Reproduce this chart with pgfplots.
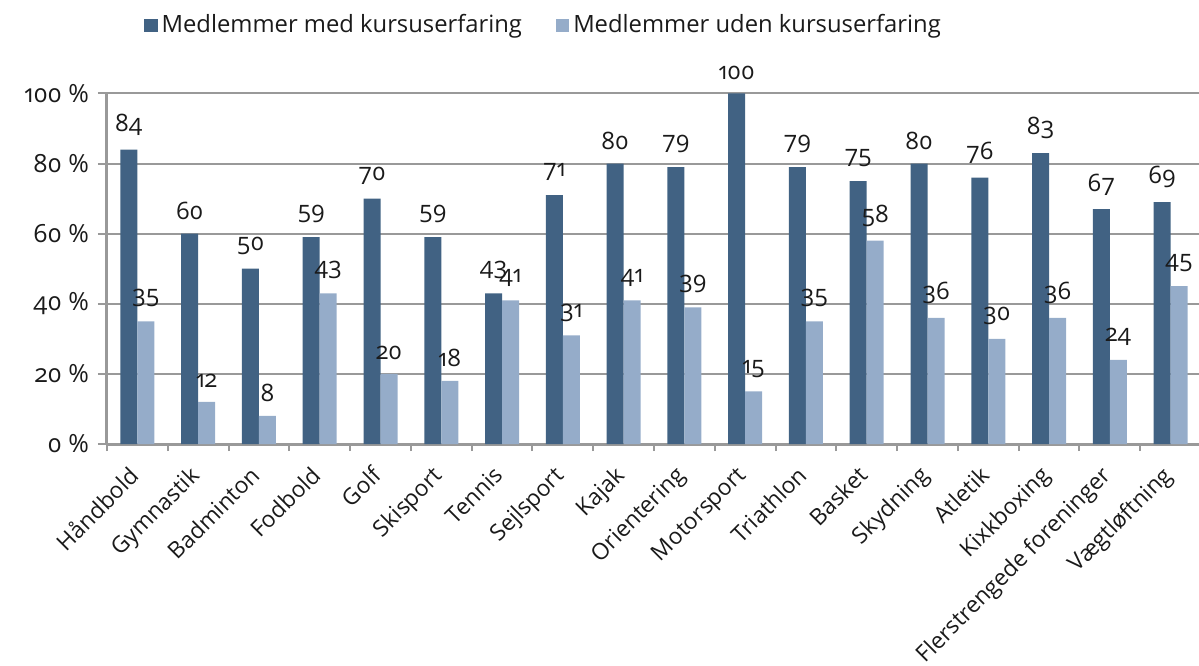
\documentclass[border=0pt]{standalone}
\usepackage{fontspec}
\setmainfont{Open Sans}[Numbers=OldStyle]
\usepackage{pgfplots}
\pgfplotsset{compat=1.18}
\definecolor{Dark}{HTML}{416283}
\definecolor{Light}{HTML}{95ACC9}
\definecolor{Grid}{HTML}{999999}
\definecolor{Txt}{HTML}{1A1A1A}

\begin{document}
\begin{tikzpicture}
% picture frame: 1px = 0.5pt, top-left at (0,0)
\path[use as bounding box] (0pt,0pt) rectangle (599.5pt,-332.5pt);
\begin{axis}[
    at={(53.5pt,-222pt)}, anchor=south west,
    width=547pt, height=175.3pt, scale only axis,
    ybar, bar width=8.5pt, ybar=0pt,
    xmin=-0.5, xmax=17.5, ymin=0, ymax=100,
    clip=false,
    xtick={0,...,17},
    xticklabels={Håndbold,Gymnastik,Badminton,Fodbold,Golf,Skisport,Tennis,Sejlsport,Kajak,Orientering,Motorsport,Triathlon,Basket,Skydning,Atletik,Kixkboxing,Flerstrengede foreninger,Vægtløftning},
    minor xtick={-0.5,0.5,...,17.5},
    major x tick style={draw=none},
    ytick={0,20,...,100},
    yticklabel={\pgfmathprintnumber{\tick}\ \%},
    ymajorgrids,
    grid style={Grid, line width=1pt},
    axis x line*=bottom, axis y line*=left,
    axis line style={Grid, line width=1.5pt},
    tick align=outside,
    major tick length=4.5pt, minor tick length=3.5pt,
    tick style={Grid, line width=1pt},
    /pgf/number format/assume math mode=true,
    yticklabel style={font=\fontsize{12.5}{14}\selectfont, text=Txt, xshift=-1pt},
    xticklabel style={rotate=45, anchor=north east, font=\fontsize{11.4}{14}\selectfont, text=Txt, inner sep=1pt, xshift=-6.5pt, yshift=0.5pt},
    nodes near coords,
    every node near coord/.append style={font=\fontsize{12}{14}\selectfont, text=Txt, yshift=3.5pt},
    legend style={at={(0.40,1.194)}, anchor=center, draw=none, fill=none,
        legend columns=2, font=\fontsize{11.9}{14}\selectfont, text=Txt,
        /tikz/every even column/.append style={column sep=15pt}},
]
\addplot[fill=Dark, draw=none,
    legend image code/.code={\fill[Dark] (0pt,-3.3pt) rectangle (6.6pt,3.3pt);}]
    coordinates {(0,84) (1,60) (2,50) (3,59) (4,70) (5,59) (6,43) (7,71) (8,80)
                 (9,79) (10,100) (11,79) (12,75) (13,80) (14,76) (15,83) (16,67) (17,69)};
\addplot[fill=Light, draw=none,
    legend image code/.code={\fill[Light] (0pt,-3.3pt) rectangle (6.6pt,3.3pt);}]
    coordinates {(0,35) (1,12) (2,8) (3,43) (4,20) (5,18) (6,41) (7,31) (8,41)
                 (9,39) (10,15) (11,35) (12,58) (13,36) (14,30) (15,36) (16,24) (17,45)};
\legend{Medlemmer med kursuserfaring, Medlemmer uden kursuserfaring}
\end{axis}
\end{tikzpicture}
\end{document}
